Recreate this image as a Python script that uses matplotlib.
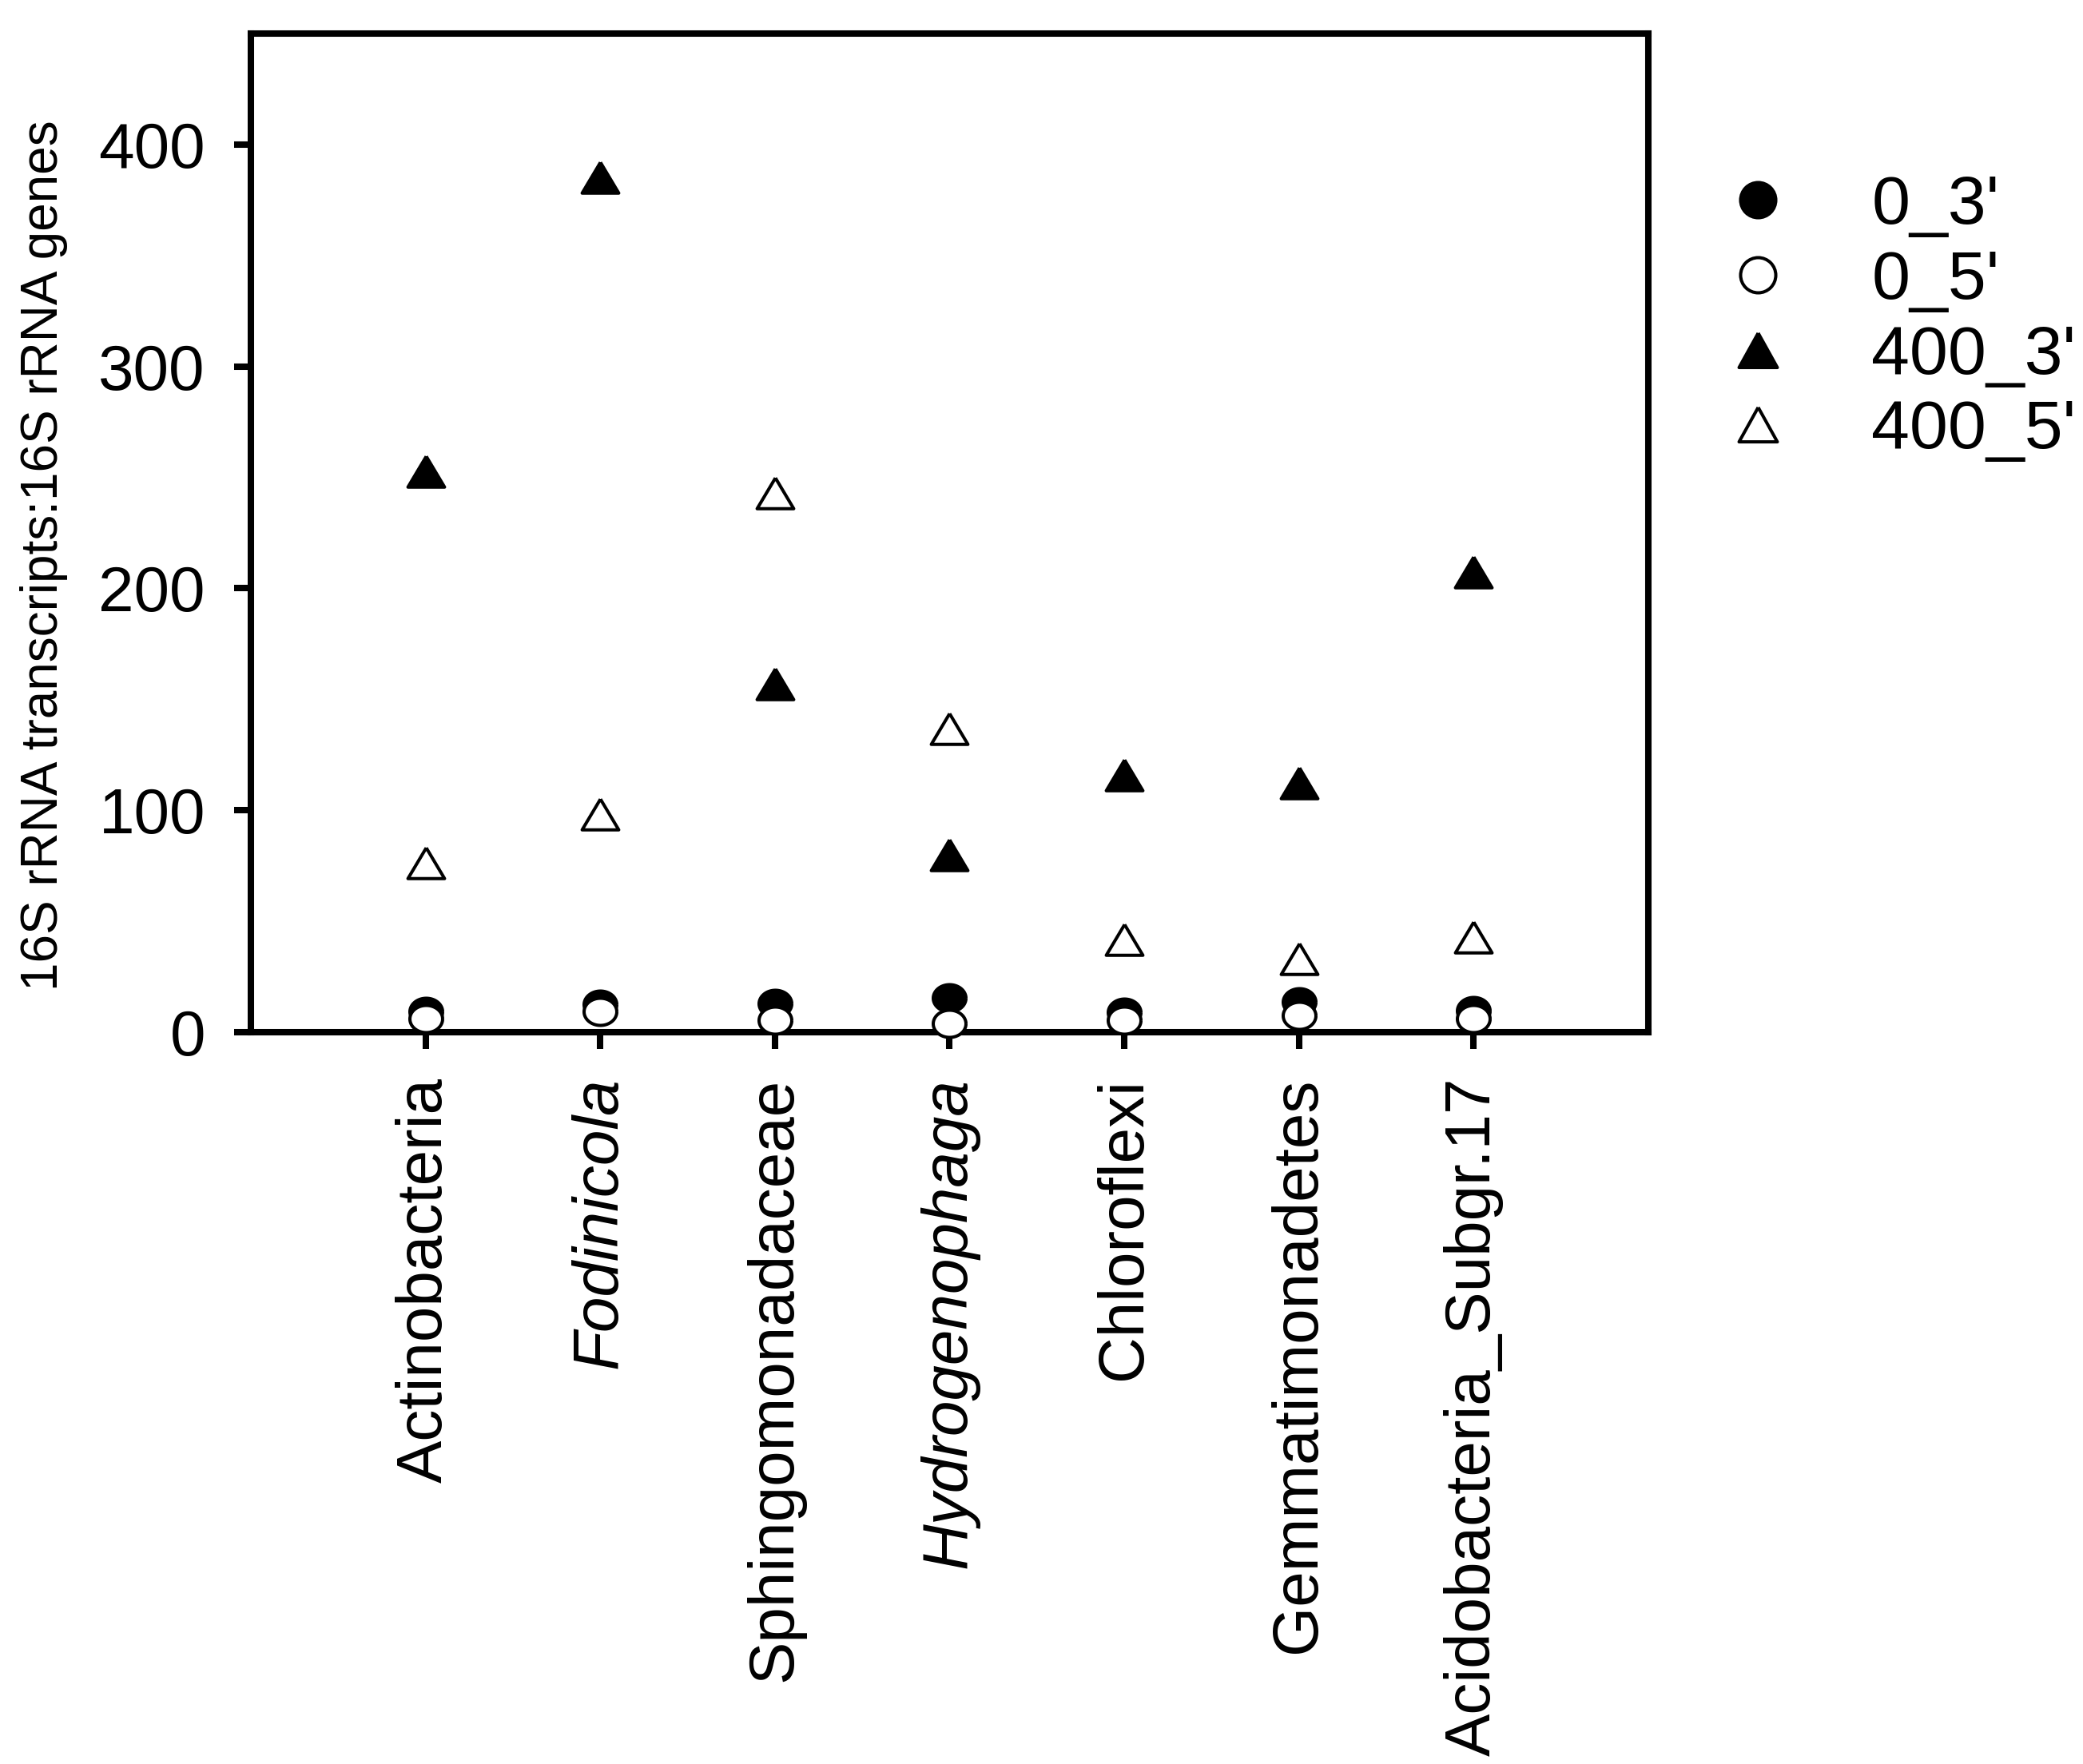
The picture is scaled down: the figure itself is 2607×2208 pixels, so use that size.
import numpy as np
import matplotlib
matplotlib.use("Agg")
import matplotlib.pyplot as plt
from matplotlib.lines import Line2D

plt.rcParams['font.family'] = ['Liberation Sans', 'DejaVu Sans']

# Data
taxa = ['Actinobacteria', 'Fodinicola', 'Sphingomonadaceae', 'Hydrogenophaga',
        'Chloroflexi', 'Gemmatimonadetes', 'Acidobacteria_Subgr.17']
italic_taxa = ['Fodinicola', 'Hydrogenophaga']
ratio_0_3 = [9.2, 12.4, 12.8, 15.4, 8.9, 13.6, 9.8]
ratio_0_5 = [6.1, 9.4, 5.2, 4.0, 5.5, 7.5, 6.1]
ratio_400_3 = [252.8, 385.3, 157.0, 79.9, 115.8, 112.3, 207.2]
ratio_400_5 = [76.3, 98.3, 242.8, 136.8, 41.6, 33.2, 42.9]
series_labels = ["0_3'", "0_5'", "400_3'", "400_5'"]
y_ticks = [0, 100, 200, 300, 400]

# slightly squashed markers like the original export
t = np.linspace(0, 2 * np.pi, 73)
ellipse = list(zip(0.5 * np.cos(t), 0.415 * np.sin(t)))
tri_flat = [(0, 0.42), (-0.5, -0.42), (0.5, -0.42), (0, 0.42)]
tri_leg = [(0, 0.45), (-0.5, -0.45), (0.5, -0.45), (0, 0.45)]

fig = plt.figure(figsize=(26.07, 22.08), dpi=100)
ax = fig.add_axes([0.1204, 0.4149, 0.6709, 0.5661])

x = np.arange(len(taxa))
lw = 2.9
ax.plot(x, ratio_0_3, ls='none', marker=ellipse, ms=29.5, mfc='black', mec='black', mew=lw, clip_on=False, zorder=3)
ax.plot(x, ratio_0_5, ls='none', marker=ellipse, ms=29.5, mfc='white', mec='black', mew=lw, clip_on=False, zorder=3)
ax.plot(x, ratio_400_3, ls='none', marker=tri_flat, ms=33, mfc='black', mec='black', mew=lw, clip_on=False, zorder=3)
ax.plot(x, ratio_400_5, ls='none', marker=tri_flat, ms=33, mfc='white', mec='black', mew=lw, clip_on=False, zorder=3)

ax.set_xlim(-1, 7)
ax.set_ylim(0, 450)
ax.set_yticks(y_ticks)
ax.set_xticks(x)
ax.set_xticklabels(taxa, rotation=90)
for lab in ax.get_xticklabels():
    if lab.get_text() in italic_taxa:
        lab.set_fontstyle('italic')

for s in ax.spines.values():
    s.set_linewidth(5.8)
ax.tick_params(axis='both', direction='out', length=15, width=5.8, labelsize=57.6, pad=26)

fig.text(0.0211, 0.6852, '16S rRNA transcripts:16S rRNA genes', rotation=90,
         ha='center', va='center', fontsize=46)

handles = [
    Line2D([], [], ls='none', marker='o', ms=31.7, mfc='black', mec='black', mew=lw),
    Line2D([], [], ls='none', marker='o', ms=31.7, mfc='white', mec='black', mew=lw),
    Line2D([], [], ls='none', marker=tri_leg, ms=34.5, mfc='black', mec='black', mew=lw),
    Line2D([], [], ls='none', marker=tri_leg, ms=34.5, mfc='white', mec='black', mew=lw),
]
ax.legend(handles, series_labels, loc='upper left', bbox_to_anchor=(0.8109, 0.9012),
          bbox_transform=fig.transFigure, frameon=False, fontsize=62, borderpad=0,
          borderaxespad=0, handlelength=2, handletextpad=0.65, labelspacing=0.16,
          numpoints=1)

fig.savefig('out.png', dpi=100)
